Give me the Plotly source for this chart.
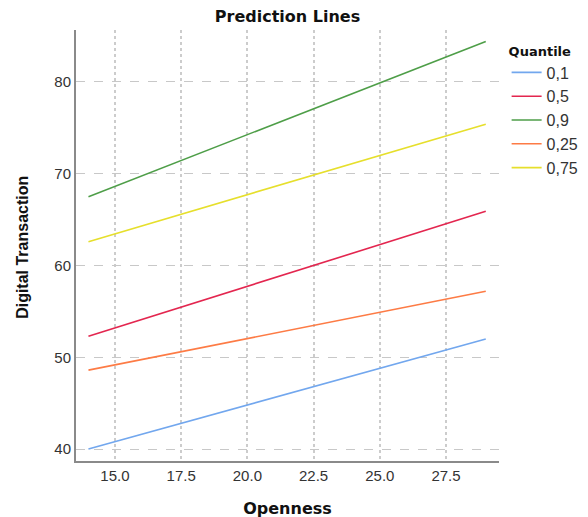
import plotly.graph_objects as go

x_vals = [14.0, 29.0]
quantiles = ["0,1", "0,5", "0,9", "0,25", "0,75"]
y_q10 = [40.0, 52.0]
y_q50 = [52.3, 65.9]
y_q90 = [67.5, 84.4]
y_q25 = [48.6, 57.2]
y_q75 = [62.6, 75.4]
series = [y_q10, y_q50, y_q90, y_q25, y_q75]
colors = ["#72a7ee", "#e3264f", "#4e9e48", "#fd7b45", "#e6df2c"]

x_ticks = [15.0, 17.5, 20.0, 22.5, 25.0, 27.5]
y_ticks = [40, 50, 60, 70, 80]

# page has an 8px body margin; figure coordinates are compensated for it
fig = go.Figure()
for name, ys, c in zip(quantiles, series, colors):
    fig.add_trace(go.Scatter(x=x_vals, y=ys, mode="lines", name=name,
                             line=dict(color=c, width=1.6)))

fig.update_layout(
    width=588, height=517,
    margin=dict(l=68, r=97, t=22, b=64, autoexpand=False),
    paper_bgcolor="white", plot_bgcolor="white",
    title=dict(text="<b>Prediction Lines</b>", x=(68 + 491) / 2 / 588, xanchor="center",
               y=1 - 8 / 517, yanchor="middle",
               font=dict(family="DejaVu Sans", size=16, color="#111")),
    legend=dict(x=1.018, xanchor="left", y=0.98, yanchor="top",
                title=dict(text="<b>Quantile</b>", font=dict(family="DejaVu Sans", size=13, color="#111")),
                font=dict(family="Liberation Sans", size=16, color="#333"),
                tracegroupgap=0, itemwidth=30),
    showlegend=True,
    annotations=[dict(text="<b>Digital Transaction</b>", xref="paper", yref="paper",
                      x=-0.128, y=0.4965, xanchor="center", yanchor="middle",
                      textangle=-90, showarrow=False,
                      font=dict(family="Liberation Sans Narrow, Liberation Sans", size=16, color="#111"))],
)
fig.update_xaxes(
    range=[13.53, 29.5], tickvals=x_ticks, ticktext=[f"{v:.1f}" for v in x_ticks],
    showline=True, linecolor="#8a8a8a", linewidth=2, ticks="", mirror=False, automargin=False,
    showgrid=True, gridcolor="#cccccc", griddash="dot", gridwidth=2, zeroline=False,
    tickfont=dict(family="Liberation Sans", size=15, color="#333"),
    title=dict(text="<b>Openness</b>", font=dict(family="DejaVu Sans", size=16, color="#111"), standoff=20),
)
fig.update_yaxes(
    range=[38.7, 85.66], tickvals=y_ticks, automargin=False,
    showline=True, linecolor="#8a8a8a", linewidth=2, ticks="", mirror=False,
    showgrid=True, gridcolor="#c8c8c8", griddash="dash", gridwidth=1, zeroline=False,
    tickfont=dict(family="Liberation Sans", size=15, color="#333"),
)
fig.write_html("out.html")
